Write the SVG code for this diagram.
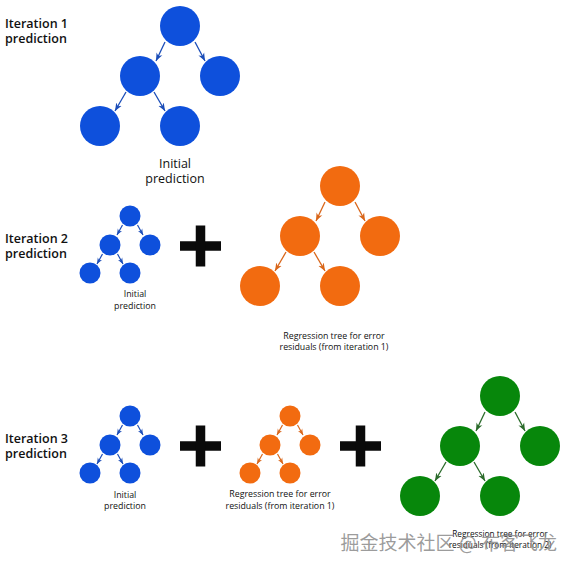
<svg xmlns="http://www.w3.org/2000/svg" width="571" height="570" viewBox="0 0 571 570">
<style>
.bg{fill:#ffffff}
.blue{fill:#0e50dc}
.orange{fill:#f26b10}
.green{fill:#07870b}
.ab{stroke:#1b4db8;fill:none;stroke-width:1.3}
.ao{stroke:#d9661a;fill:none;stroke-width:1.3}
.ag{stroke:#2b6b2b;fill:none;stroke-width:1.3}
.title{font-family:"Open Sans","Liberation Sans",sans-serif;font-weight:600;font-size:12.5px;fill:#111}
.lbl{font-family:"Open Sans","Liberation Sans",sans-serif;font-size:12.5px;fill:#111;text-anchor:middle}
.sm{font-family:"Open Sans","Liberation Sans",sans-serif;font-size:8.8px;fill:#111;text-anchor:middle}
.plus{fill:#0a0a0a}
.wm{font-family:"Noto Sans CJK SC","Noto Sans",sans-serif;font-size:19px;fill:#8a8a8a;fill-opacity:0.85;text-anchor:end}
</style>
<defs>
<marker id="mbB" viewBox="0 0 10 10" refX="10" refY="5" markerWidth="8" markerHeight="8" markerUnits="userSpaceOnUse" orient="auto"><path d="M0,1 L10,5 L0,9 L3,5 z" fill="#1b4db8"/></marker>
<marker id="mbS" viewBox="0 0 10 10" refX="10" refY="5" markerWidth="6" markerHeight="6" markerUnits="userSpaceOnUse" orient="auto"><path d="M0,1 L10,5 L0,9 L3,5 z" fill="#1b4db8"/></marker>
<marker id="moB" viewBox="0 0 10 10" refX="10" refY="5" markerWidth="8" markerHeight="8" markerUnits="userSpaceOnUse" orient="auto"><path d="M0,1 L10,5 L0,9 L3,5 z" fill="#d9661a"/></marker>
<marker id="moS" viewBox="0 0 10 10" refX="10" refY="5" markerWidth="6" markerHeight="6" markerUnits="userSpaceOnUse" orient="auto"><path d="M0,1 L10,5 L0,9 L3,5 z" fill="#d9661a"/></marker>
<marker id="mgB" viewBox="0 0 10 10" refX="10" refY="5" markerWidth="8" markerHeight="8" markerUnits="userSpaceOnUse" orient="auto"><path d="M0,1 L10,5 L0,9 L3,5 z" fill="#2b6b2b"/></marker>
</defs>
<rect class="bg" x="0" y="0" width="571" height="570"/>

<!-- Labels -->
<g id="label-iter1"><text class="title" x="5" y="27.5">Iteration 1</text><text class="title" x="5" y="42.5">prediction</text></g>
<g id="label-iter2"><text class="title" x="5" y="243">Iteration 2</text><text class="title" x="5" y="257.5">prediction</text></g>
<g id="label-iter3"><text class="title" x="5" y="443">Iteration 3</text><text class="title" x="5" y="457.5">prediction</text></g>

<!-- Tree 1 (blue, large) root (180,26) -->
<g id="t1-root"><circle class="blue" cx="180" cy="26" r="20"/></g>
<g id="t1-l"><circle class="blue" cx="140" cy="76" r="20"/></g>
<g id="t1-r"><circle class="blue" cx="220" cy="76" r="20"/></g>
<g id="t1-ll"><circle class="blue" cx="100" cy="126" r="20"/></g>
<g id="t1-lr"><circle class="blue" cx="180" cy="126" r="20"/></g>
<g id="t1-text"><text class="lbl" x="175" y="167.5">Initial</text><text class="lbl" x="175" y="183">prediction</text></g>

<!-- Tree 2 blue small root (130,216) -->
<g id="t2b-root"><circle class="blue" cx="130" cy="216" r="10.5"/></g>
<g id="t2b-l"><circle class="blue" cx="110" cy="245" r="10.5"/></g>
<g id="t2b-r"><circle class="blue" cx="150" cy="245" r="10.5"/></g>
<g id="t2b-ll"><circle class="blue" cx="90" cy="273" r="10.5"/></g>
<g id="t2b-lr"><circle class="blue" cx="130" cy="273" r="10.5"/></g>
<g id="t2b-text"><text class="sm" x="135" y="297">Initial</text><text class="sm" x="135" y="309">prediction</text></g>

<g id="plus1"><rect class="plus" x="180" y="241.25" width="41" height="9.5"/><rect class="plus" x="195.75" y="225.5" width="9.5" height="41"/></g>

<!-- Tree 2 orange large root (340,186) -->
<g id="t2o-root"><circle class="orange" cx="340" cy="186" r="20"/></g>
<g id="t2o-l"><circle class="orange" cx="300" cy="236" r="20"/></g>
<g id="t2o-r"><circle class="orange" cx="380" cy="236" r="20"/></g>
<g id="t2o-ll"><circle class="orange" cx="260" cy="286" r="20"/></g>
<g id="t2o-lr"><circle class="orange" cx="340" cy="286" r="20"/></g>
<g id="t2o-text"><text class="sm" x="334" y="338.5">Regression tree for error</text><text class="sm" x="334" y="349.5">residuals (from iteration 1)</text></g>

<!-- Tree 3 blue small root (130,416) -->
<g id="t3b-root"><circle class="blue" cx="130" cy="416" r="10.5"/></g>
<g id="t3b-l"><circle class="blue" cx="110" cy="445" r="10.5"/></g>
<g id="t3b-r"><circle class="blue" cx="150" cy="445" r="10.5"/></g>
<g id="t3b-ll"><circle class="blue" cx="90" cy="473" r="10.5"/></g>
<g id="t3b-lr"><circle class="blue" cx="130" cy="473" r="10.5"/></g>
<g id="t3b-text"><text class="sm" x="125" y="497.5">Initial</text><text class="sm" x="125" y="509">prediction</text></g>

<g id="plus2"><rect class="plus" x="180" y="441.25" width="41" height="9.5"/><rect class="plus" x="195.75" y="425.5" width="9.5" height="41"/></g>

<!-- Tree 3 orange small root (290,416) -->
<g id="t3o-root"><circle class="orange" cx="290" cy="416" r="10.5"/></g>
<g id="t3o-l"><circle class="orange" cx="270" cy="445" r="10.5"/></g>
<g id="t3o-r"><circle class="orange" cx="310" cy="445" r="10.5"/></g>
<g id="t3o-ll"><circle class="orange" cx="250" cy="473" r="10.5"/></g>
<g id="t3o-lr"><circle class="orange" cx="290" cy="473" r="10.5"/></g>
<g id="t3o-text"><text class="sm" x="280" y="497">Regression tree for error</text><text class="sm" x="280" y="509">residuals (from iteration 1)</text></g>

<g id="plus3"><rect class="plus" x="340" y="441.25" width="41" height="9.5"/><rect class="plus" x="355.75" y="425.5" width="9.5" height="41"/></g>

<!-- Tree 3 green large root (500,396) -->
<g id="t3g-root"><circle class="green" cx="500" cy="396" r="20"/></g>
<g id="t3g-l"><circle class="green" cx="460" cy="446" r="20"/></g>
<g id="t3g-r"><circle class="green" cx="540" cy="446" r="20"/></g>
<g id="t3g-ll"><circle class="green" cx="420" cy="496" r="20"/></g>
<g id="t3g-lr"><circle class="green" cx="500" cy="496" r="20"/></g>
<g id="t3g-text"><text class="sm" x="500" y="536.5" style="font-size:8.3px">Regression tree for error</text><text class="sm" x="500" y="548" style="font-size:8.3px">residuals (from iteration 2)</text></g>

<!-- Connectors -->
<g id="connectors">
<path class="ab" marker-end="url(#mbB)" d="M165,42 L156,61"/>
<path class="ab" marker-end="url(#mbB)" d="M195,42 L205,61"/>
<path class="ab" marker-end="url(#mbB)" d="M126,92 L115,111"/>
<path class="ab" marker-end="url(#mbB)" d="M154,92 L165,111"/>

<path class="ab" style="stroke-width:1.2" marker-end="url(#mbS)" d="M122.5,225 L117,235"/>
<path class="ab" style="stroke-width:1.2" marker-end="url(#mbS)" d="M137.5,225 L143,235"/>
<path class="ab" style="stroke-width:1.2" marker-end="url(#mbS)" d="M102.5,254 L97,264"/>
<path class="ab" style="stroke-width:1.2" marker-end="url(#mbS)" d="M117.5,254 L123,264"/>

<path class="ao" marker-end="url(#moB)" d="M325,202 L316,221"/>
<path class="ao" marker-end="url(#moB)" d="M355,202 L365,221"/>
<path class="ao" marker-end="url(#moB)" d="M286,252 L275,271"/>
<path class="ao" marker-end="url(#moB)" d="M314,252 L325,271"/>

<path class="ab" style="stroke-width:1.2" marker-end="url(#mbS)" d="M122.5,425 L117,435"/>
<path class="ab" style="stroke-width:1.2" marker-end="url(#mbS)" d="M137.5,425 L143,435"/>
<path class="ab" style="stroke-width:1.2" marker-end="url(#mbS)" d="M102.5,454 L97,464"/>
<path class="ab" style="stroke-width:1.2" marker-end="url(#mbS)" d="M117.5,454 L123,464"/>

<path class="ao" style="stroke-width:1.2" marker-end="url(#moS)" d="M282.5,425 L277,435"/>
<path class="ao" style="stroke-width:1.2" marker-end="url(#moS)" d="M297.5,425 L303,435"/>
<path class="ao" style="stroke-width:1.2" marker-end="url(#moS)" d="M262.5,454 L257,464"/>
<path class="ao" style="stroke-width:1.2" marker-end="url(#moS)" d="M277.5,454 L283,464"/>

<path class="ag" marker-end="url(#mgB)" d="M485,412 L476,431"/>
<path class="ag" marker-end="url(#mgB)" d="M515,412 L525,431"/>
<path class="ag" marker-end="url(#mgB)" d="M446,462 L435,481"/>
<path class="ag" marker-end="url(#mgB)" d="M474,462 L485,481"/>
</g>

<text class="wm" x="557" y="550">掘金技术社区 @ 布客飞龙</text>
</svg>
